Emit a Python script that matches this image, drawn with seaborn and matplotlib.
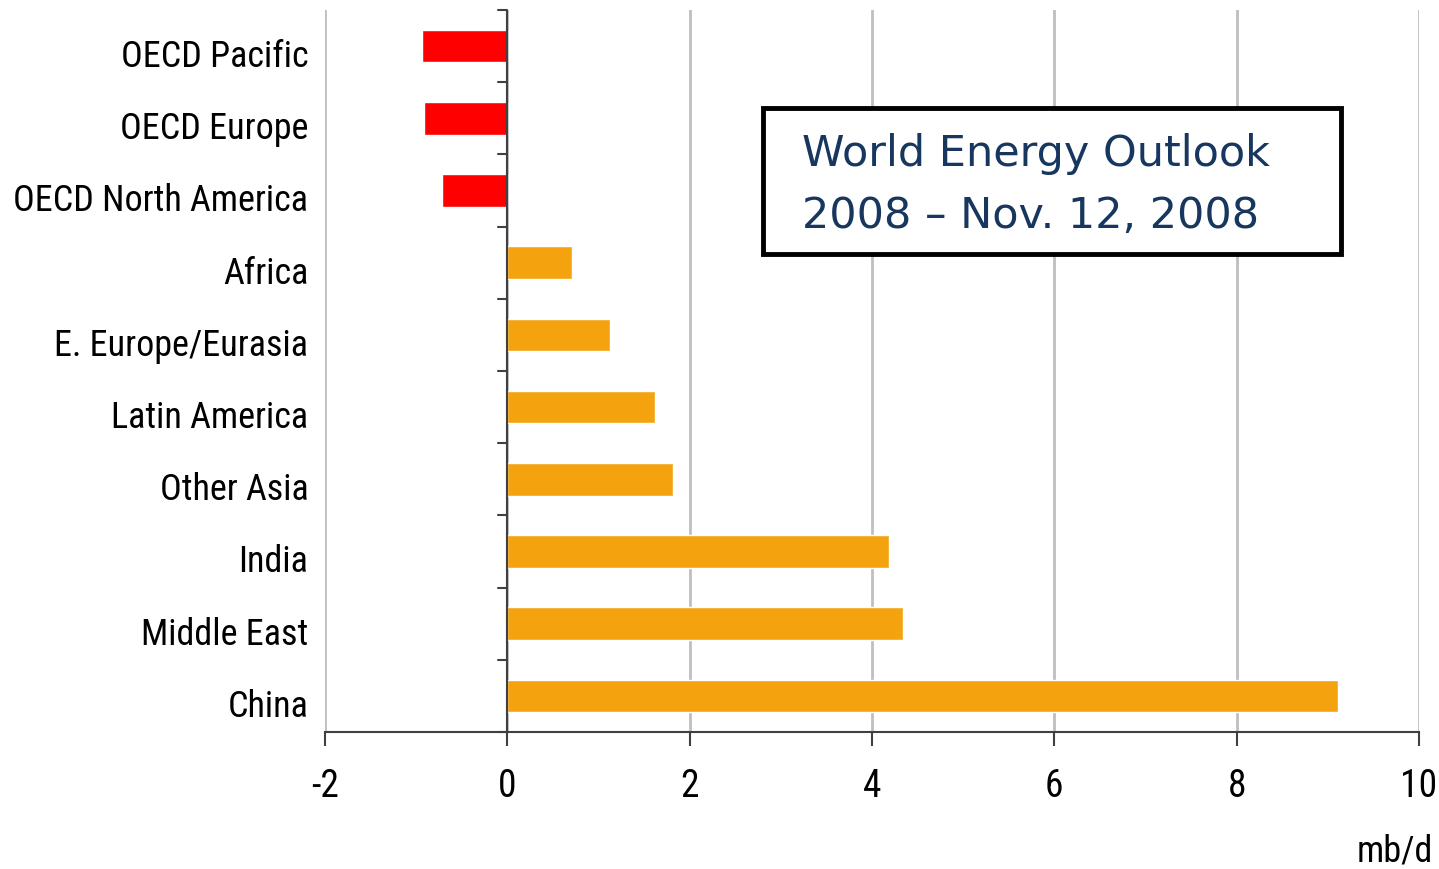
import matplotlib
matplotlib.use("Agg")
import matplotlib.pyplot as plt
from matplotlib import font_manager
from matplotlib.transforms import ScaledTranslation
import seaborn as sns
import pandas as pd
from matplotlib.ticker import FixedLocator
from matplotlib.patches import Rectangle

regions = ["OECD Pacific", "OECD Europe", "OECD North America", "Africa",
           "E. Europe/Eurasia", "Latin America", "Other Asia", "India",
           "Middle East", "China"]
values = [-0.94, -0.92, -0.72, 0.71, 1.13, 1.62, 1.82, 4.19, 4.34, 9.11]
groups = ["OECD", "OECD", "OECD", "Non-OECD", "Non-OECD", "Non-OECD",
          "Non-OECD", "Non-OECD", "Non-OECD", "Non-OECD"]
xticks = [-2, 0, 2, 4, 6, 8, 10]
title_text = "World Energy Outlook\n2008 \u2013 Nov. 12, 2008"
unit_label = "mb/d"

df = pd.DataFrame({"region": regions, "value": values, "group": groups})

sns.set_theme(style="white")

# pick a narrow font if available
names = {f.name for f in font_manager.fontManager.ttflist}
narrow = None
for cand in ["Liberation Sans Narrow", "Roboto Condensed", "Open Sans Condensed",
             "DejaVu Sans Condensed", "Noto Sans Condensed"]:
    if cand in names:
        narrow = cand
        break
stretch = "normal"
if narrow is None:
    narrow = "DejaVu Sans"
    stretch = "condensed"
label_font = [narrow, "DejaVu Sans"]

fig = plt.figure(figsize=(14.39, 8.69), dpi=100)
ax = fig.add_axes([0.2259, 0.1577, 0.7602, 0.8308])

# fit label size so the longest label is ~300 px wide
renderer = fig.canvas.get_renderer()
size = 27
for s in [27, 26, 25, 24, 23, 22, 21, 20, 19, 18]:
    t = fig.text(0, 0, "OECD North America", fontsize=s, fontfamily=label_font,
                 fontstretch=stretch)
    w = t.get_window_extent(renderer).width
    t.remove()
    size = s
    if w <= 302:
        break

sns.barplot(data=df, x="value", y="region", hue="group", dodge=False,
            palette={"OECD": "#FF0000", "Non-OECD": "#F4A30E"},
            width=0.45, legend=False, ax=ax, saturation=1, zorder=3)

ax.set_xlim(-2, 10)
ax.set_ylim(len(regions) - 0.5, -0.5)
ax.xaxis.set_major_locator(FixedLocator(xticks))
ax.grid(axis="x", color="#BFBFBF", linewidth=2, zorder=0)
ax.grid(axis="y", visible=False)
for s in ["top", "right", "left"]:
    ax.spines[s].set_visible(False)
ax.spines["bottom"].set_color("#404040")
ax.spines["bottom"].set_linewidth(1.5)
ax.axvline(0, color="#404040", linewidth=1.5, zorder=4)

ax.tick_params(axis="x", which="major", direction="out", length=10, width=1.5,
               color="#404040", pad=16, bottom=True)
ax.set_xticklabels([str(t) for t in xticks], fontfamily=label_font,
                   fontsize=size + 1, fontstretch=stretch, color="black")
ax.set_yticks(range(len(regions)))
ax.set_yticklabels(regions, fontfamily=label_font, fontsize=size,
                   fontstretch=stretch, color="black")
ax.tick_params(axis="y", which="major", length=0, pad=12)
shift = ScaledTranslation(0, -7 / 100, fig.dpi_scale_trans)
for lab in ax.get_yticklabels():
    lab.set_transform(lab.get_transform() + shift)
ax.set_xlabel("")
ax.set_ylabel("")

# minor ticks on the zero line between categories
for i in range(len(regions) + 1):
    yb = i - 0.5
    ax.plot([-0.1, 0], [yb, yb], color="#404040", linewidth=1.5, zorder=5,
            clip_on=False)

fig.text(0.996, 1 - 852 / 869, unit_label, ha="right", va="center",
         fontsize=size, fontfamily=label_font, fontstretch=stretch,
         color="black")

fig.patches.append(Rectangle((0.5302, 0.7077), 0.4017, 0.168,
                             transform=fig.transFigure, facecolor="white",
                             edgecolor="black", linewidth=3.5, zorder=10))
fig.text(0.5573, 1 - 185 / 869, title_text, ha="left", va="center",
         fontsize=31, fontfamily=["DejaVu Sans"], color="#17375E",
         linespacing=1.62, zorder=11)

fig.savefig("out.png", dpi=100)
